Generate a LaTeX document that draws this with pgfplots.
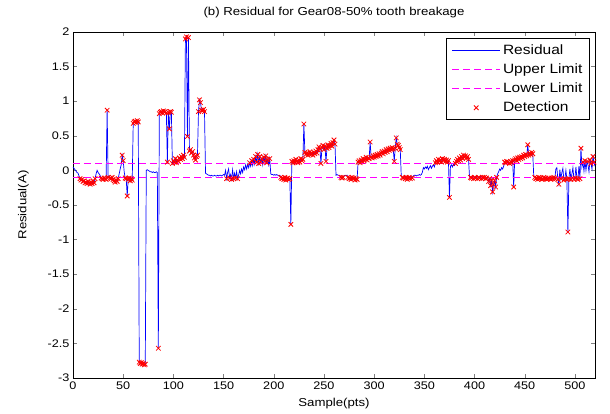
\documentclass[border=0pt]{standalone}
\usepackage{fontspec}
\setmainfont{Liberation Sans}[FakeStretch=1.15]
\usepackage{pgfplots}
\usepackage{pgfplotstable}
\pgfplotsset{compat=1.18}
\definecolor{limitmag}{RGB}{255,0,255}
\pgfplotsset{
  legline/.style={legend image code/.code={\draw[##1] (0cm,0cm) -- (1.7cm,0cm);}},
  legmark/.style={legend image code/.code={\draw[mark repeat=2,mark phase=2,##1] plot coordinates {(0cm,0cm)(0.85cm,0cm)(1.7cm,0cm)};}},
  limstyle/.style={draw=limitmag, mark=none, dash pattern=on 7pt off 4pt, line width=1.2pt},
}

% residual per sample
\pgfplotstableread[row sep=\\]{
x y\\
0 0.05\\ 1 0.03\\ 2 0.01\\ 3 -0.01\\ 4 -0.03\\ 5 -0.04\\ 6 -0.08\\ 7 -0.12\\ 8 -0.14\\ 9 -0.13\\
10 -0.16\\ 11 -0.15\\ 12 -0.18\\ 13 -0.17\\ 14 -0.19\\ 15 -0.16\\ 16 -0.18\\ 17 -0.20\\ 18 -0.17\\ 19 -0.19\\
20 -0.15\\ 21 -0.18\\ 22 -0.12\\ 23 -0.05\\ 24 0.00\\ 25 -0.03\\ 26 -0.05\\ 27 -0.07\\ 28 -0.11\\ 29 -0.12\\
30 -0.13\\ 31 -0.11\\ 32 -0.12\\ 33 -0.13\\ 34 0.87\\ 35 -0.10\\ 36 -0.08\\ 37 -0.11\\ 38 -0.12\\ 39 -0.10\\
40 -0.13\\ 41 -0.15\\ 42 -0.17\\ 43 -0.14\\ 44 -0.16\\ 45 -0.12\\ 46 -0.05\\ 47 0.02\\ 48 0.08\\ 49 0.22\\
50 0.14\\ 51 -0.02\\ 52 -0.11\\ 53 -0.12\\ 54 -0.37\\ 55 -0.13\\ 56 -0.11\\ 57 -0.15\\ 58 -0.12\\ 59 -0.14\\
60 0.68\\ 61 0.70\\ 62 0.71\\ 63 0.69\\ 64 0.72\\ 65 0.70\\ 66 -2.77\\ 67 -2.79\\ 68 -2.78\\ 69 -2.80\\
70 -2.79\\ 71 -2.81\\ 72 -2.80\\ 73 0.00\\ 74 0.01\\ 75 0.00\\ 76 -0.01\\ 77 -0.02\\ 78 -0.02\\ 79 -0.03\\
80 -0.02\\ 81 -0.03\\ 82 -0.03\\ 83 -0.02\\ 84 -0.03\\ 85 -2.57\\ 86 0.82\\ 87 0.84\\ 88 0.85\\ 89 0.83\\
90 0.86\\ 91 0.84\\ 92 0.85\\ 93 0.83\\ 94 0.12\\ 95 0.84\\ 96 0.60\\ 97 0.85\\ 98 0.84\\ 99 0.10\\
100 0.14\\ 101 0.12\\ 102 0.17\\ 103 0.11\\ 104 0.15\\ 105 0.13\\ 106 0.18\\ 107 0.16\\ 108 0.20\\ 109 0.17\\
110 0.22\\ 111 0.19\\ 112 1.90\\ 113 1.93\\ 114 0.49\\ 115 1.92\\ 116 0.28\\ 117 0.30\\ 118 0.25\\ 119 0.27\\
120 0.22\\ 121 0.18\\ 122 0.15\\ 123 0.20\\ 124 0.22\\ 125 0.85\\ 126 1.02\\ 127 0.98\\ 128 0.87\\ 129 0.86\\
130 0.88\\ 131 0.85\\ 132 -0.04\\ 133 -0.05\\ 134 -0.06\\ 135 -0.07\\ 136 -0.07\\ 137 -0.08\\ 138 -0.07\\ 139 -0.08\\
140 -0.08\\ 141 -0.07\\ 142 -0.08\\ 143 -0.08\\ 144 -0.07\\ 145 -0.08\\ 146 -0.07\\ 147 -0.07\\ 148 -0.08\\ 149 -0.07\\
150 -0.06\\ 151 -0.07\\ 152 0.00\\ 153 -0.12\\ 154 -0.03\\ 155 0.02\\ 156 -0.11\\ 157 -0.06\\ 158 -0.13\\ 159 0.01\\
160 -0.12\\ 161 -0.04\\ 162 -0.11\\ 163 -0.02\\ 164 -0.12\\ 165 -0.07\\ 166 0.00\\ 167 -0.05\\ 168 0.02\\ 169 -0.03\\
170 0.05\\ 171 0.01\\ 172 0.08\\ 173 0.02\\ 174 0.09\\ 175 0.04\\ 176 0.11\\ 177 0.06\\ 178 0.14\\ 179 0.07\\
180 0.16\\ 181 0.09\\ 182 0.20\\ 183 0.12\\ 184 0.23\\ 185 0.10\\ 186 0.20\\ 187 0.12\\ 188 0.17\\ 189 0.08\\
190 0.19\\ 191 0.13\\ 192 0.21\\ 193 0.11\\ 194 0.16\\ 195 0.08\\ 196 0.17\\ 197 -0.05\\ 198 -0.06\\ 199 -0.06\\
200 -0.07\\ 201 -0.06\\ 202 -0.07\\ 203 -0.06\\ 204 -0.07\\ 205 -0.08\\ 206 -0.07\\ 207 -0.10\\ 208 -0.12\\ 209 -0.11\\
210 -0.13\\ 211 -0.10\\ 212 -0.14\\ 213 -0.12\\ 214 -0.11\\ 215 -0.13\\ 216 -0.12\\ 217 -0.78\\ 218 0.13\\ 219 0.11\\
220 0.14\\ 221 0.12\\ 222 0.16\\ 223 0.13\\ 224 0.11\\ 225 0.15\\ 226 0.12\\ 227 0.17\\ 228 0.14\\ 229 0.16\\
230 0.67\\ 231 0.26\\ 232 0.23\\ 233 0.25\\ 234 0.22\\ 235 0.24\\ 236 0.27\\ 237 0.23\\ 238 0.25\\ 239 0.22\\
240 0.26\\ 241 0.24\\ 242 0.28\\ 243 0.25\\ 244 0.30\\ 245 0.34\\ 246 0.31\\ 247 0.10\\ 248 0.33\\ 249 0.36\\
250 0.30\\ 251 0.35\\ 252 0.13\\ 253 0.32\\ 254 0.37\\ 255 0.33\\ 256 0.36\\ 257 0.39\\ 258 0.35\\ 259 0.40\\
260 0.44\\ 261 0.38\\ 262 -0.07\\ 263 -0.06\\ 264 -0.07\\ 265 -0.07\\ 266 -0.08\\ 267 -0.10\\ 268 -0.11\\ 269 -0.10\\
270 -0.08\\ 271 -0.07\\ 272 -0.08\\ 273 -0.07\\ 274 -0.10\\ 275 -0.12\\ 276 -0.11\\ 277 -0.13\\ 278 -0.10\\ 279 -0.12\\
280 -0.11\\ 281 -0.14\\ 282 -0.12\\ 283 -0.13\\ 284 0.12\\ 285 0.14\\ 286 0.11\\ 287 0.15\\ 288 0.13\\ 289 0.17\\
290 0.14\\ 291 0.16\\ 292 0.19\\ 293 0.15\\ 294 0.18\\ 295 0.17\\ 296 0.41\\ 297 0.19\\ 298 0.18\\ 299 0.21\\
300 0.19\\ 301 0.22\\ 302 0.20\\ 303 0.23\\ 304 0.21\\ 305 0.24\\ 306 0.22\\ 307 0.25\\ 308 0.27\\ 309 0.24\\
310 0.28\\ 311 0.26\\ 312 0.30\\ 313 0.27\\ 314 0.31\\ 315 0.29\\ 316 0.32\\ 317 0.30\\ 318 0.33\\ 319 0.31\\
320 0.13\\ 321 0.32\\ 322 0.47\\ 323 0.38\\ 324 0.36\\ 325 0.33\\ 326 0.30\\ 327 -0.08\\ 328 -0.10\\ 329 -0.11\\
330 -0.09\\ 331 -0.12\\ 332 -0.10\\ 333 -0.13\\ 334 -0.11\\ 335 -0.10\\ 336 -0.12\\ 337 -0.09\\ 338 -0.11\\ 339 -0.08\\
340 -0.07\\ 341 -0.07\\ 342 -0.08\\ 343 -0.07\\ 344 -0.07\\ 345 -0.06\\ 346 -0.07\\ 347 -0.06\\ 348 -0.03\\ 349 0.04\\
350 0.02\\ 351 0.05\\ 352 0.03\\ 353 0.06\\ 354 0.01\\ 355 0.04\\ 356 0.07\\ 357 0.03\\ 358 0.06\\ 359 0.08\\
360 0.05\\ 361 0.11\\ 362 0.14\\ 363 0.12\\ 364 0.16\\ 365 0.13\\ 366 0.15\\ 367 0.12\\ 368 0.17\\ 369 0.14\\
370 0.16\\ 371 0.13\\ 372 0.15\\ 373 0.12\\ 374 0.14\\ 375 -0.39\\ 376 0.06\\ 377 0.08\\ 378 0.05\\ 379 0.09\\
380 0.07\\ 381 0.10\\ 382 0.13\\ 383 0.16\\ 384 0.14\\ 385 0.18\\ 386 0.15\\ 387 0.20\\ 388 0.17\\ 389 0.22\\
390 0.19\\ 391 0.21\\ 392 0.18\\ 393 0.20\\ 394 0.16\\ 395 -0.09\\ 396 -0.10\\ 397 -0.11\\ 398 -0.09\\ 399 -0.12\\
400 -0.10\\ 401 -0.11\\ 402 -0.09\\ 403 -0.12\\ 404 -0.10\\ 405 -0.11\\ 406 -0.09\\ 407 -0.12\\ 408 -0.10\\ 409 -0.11\\
410 -0.10\\ 411 -0.12\\ 412 -0.11\\ 413 -0.09\\ 414 -0.16\\ 415 -0.12\\ 416 -0.22\\ 417 -0.14\\ 418 -0.31\\ 419 -0.20\\
420 -0.15\\ 421 -0.24\\ 422 -0.10\\ 423 -0.05\\ 424 -0.02\\ 425 0.02\\ 426 0.00\\ 427 0.04\\ 428 0.02\\ 429 0.06\\
430 0.12\\ 431 0.11\\ 432 0.13\\ 433 0.12\\ 434 0.09\\ 435 0.10\\ 436 0.13\\ 437 0.11\\ 438 0.14\\ 439 -0.24\\
440 0.15\\ 441 0.17\\ 442 0.14\\ 443 0.18\\ 444 0.16\\ 445 0.19\\ 446 0.17\\ 447 0.20\\ 448 0.18\\ 449 0.22\\
450 0.20\\ 451 0.23\\ 452 0.21\\ 453 0.37\\ 454 0.22\\ 455 0.25\\ 456 0.23\\ 457 0.26\\ 458 0.24\\ 459 -0.09\\
460 -0.10\\ 461 -0.12\\ 462 -0.11\\ 463 -0.13\\ 464 -0.10\\ 465 -0.12\\ 466 -0.11\\ 467 -0.13\\ 468 -0.12\\ 469 -0.10\\
470 -0.12\\ 471 -0.11\\ 472 -0.13\\ 473 -0.12\\ 474 -0.11\\ 475 -0.12\\ 476 -0.13\\ 477 -0.11\\ 478 -0.12\\ 479 -0.10\\
480 -0.12\\ 481 0.02\\ 482 0.04\\ 483 -0.13\\ 484 -0.20\\ 485 0.01\\ 486 -0.12\\ 487 -0.03\\ 488 0.03\\ 489 -0.14\\
490 -0.12\\ 491 0.00\\ 492 -0.13\\ 493 -0.89\\ 494 -0.12\\ 495 0.02\\ 496 -0.13\\ 497 -0.05\\ 498 0.04\\ 499 -0.13\\
500 -0.11\\ 501 0.05\\ 502 -0.12\\ 503 -0.13\\ 504 0.06\\ 505 -0.12\\ 506 0.32\\ 507 0.05\\ 508 0.12\\ 509 -0.01\\
510 0.14\\ 511 0.00\\ 512 0.13\\ 513 0.08\\ 514 -0.02\\ 515 0.15\\ 516 0.10\\ 517 0.02\\ 518 0.20\\ 519 0.12\\ 520 0.06\\
}\res

\pgfplotstableread{
x up lo
0 0.1 -0.1
130 0.1 -0.1
260 0.1 -0.1
390 0.1 -0.1
520 0.1 -0.1
}\lim

\begin{document}
\begin{tikzpicture}
\begin{axis}[name=ax,
  scale only axis, width=522pt, height=346pt,
  xmin=0, xmax=520, ymin=-3, ymax=2,
  xtick={0,50,...,500}, ytick={-3,-2.5,...,2},
  yticklabel style={/pgf/number format/fixed},
  /pgf/number format/assume math mode=true,
  tick align=inside, major tick length=4pt,
  tick label style={font=\fontsize{11}{13}\selectfont},
  title={(b) Residual for Gear08-50\% tooth breakage},
  title style={font=\fontsize{11.5}{13}\selectfont, yshift=5pt},
  xlabel={Sample(pts)}, ylabel={Residual(A)},
  label style={font=\fontsize{11.5}{13}\selectfont},
  xlabel style={yshift=-2pt}, ylabel style={yshift=12pt},
  legend cell align=left,
  legend style={at={(rel axis cs:0.99,0.983)}, anchor=north east,
    font=\fontsize{13.5}{15}\selectfont, draw=black, line width=0.8pt,
    row sep=4pt, inner xsep=5pt, inner ysep=4pt},
]
\addplot[blue, line width=0.7pt, legline] table[x=x, y=y] {\res};
\addlegendentry{Residual}
\addplot[limstyle, legline] table[x=x, y=up] {\lim};
\addlegendentry{Upper Limit}
\addplot[limstyle, legline] table[x=x, y=lo] {\lim};
\addlegendentry{Lower Limit}
\addplot[only marks, red, mark=x, mark size=3.2pt, line width=0.8pt,
  restrict expr to domain={abs(y)}{0.095:10}, legmark]
  table[x=x, y=y] {\res};
\addlegendentry{Detection}
\end{axis}
\pgfresetboundingbox
\path[use as bounding box] ([xshift=-73pt,yshift=-36pt]ax.south west) rectangle ([xshift=15pt,yshift=32pt]ax.north east);
\end{tikzpicture}
\end{document}
